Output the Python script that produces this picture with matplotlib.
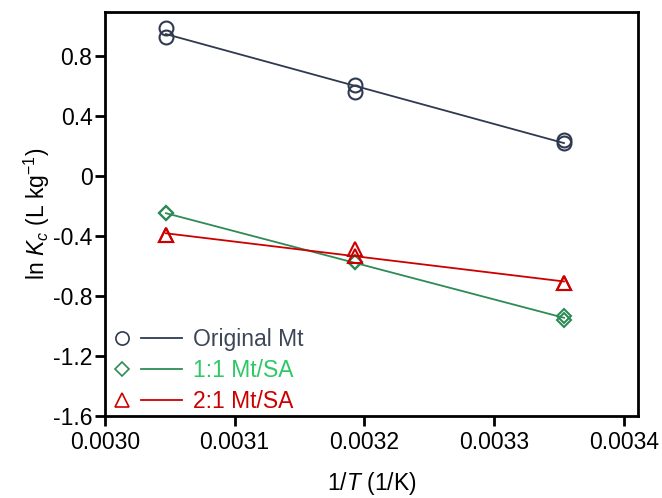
import matplotlib
matplotlib.use("Agg")
import matplotlib.pyplot as plt
import numpy as np
from matplotlib.legend_handler import HandlerBase
from matplotlib.lines import Line2D

plt.rcParams['font.family'] = ['Liberation Sans', 'DejaVu Sans']
plt.rcParams['mathtext.fontset'] = 'custom'
plt.rcParams['mathtext.rm'] = 'Liberation Sans'
plt.rcParams['mathtext.it'] = 'Liberation Sans:italic'

inv_T = [0.003047, 0.003193, 0.003354]
xticks = [0.0030, 0.0031, 0.0032, 0.0033, 0.0034]
xticklabels = ["0.0030", "0.0031", "0.0032", "0.0033", "0.0034"]
yticks = [-1.6, -1.2, -0.8, -0.4, 0, 0.4, 0.8]
yticklabels = ["-1.6", "-1.2", "-0.8", "-0.4", "0", "0.4", "0.8"]

orig_rep1 = [0.987, 0.606, 0.239]
orig_rep2 = [0.927, 0.560, 0.219]
mix11_rep1 = [-0.249, -0.576, -0.930]
mix11_rep2 = [-0.249, -0.576, -0.963]
mix21_rep1 = [-0.396, -0.483, -0.716]
mix21_rep2 = [-0.396, -0.530, -0.716]

series = [
    ("Original Mt", orig_rep1, orig_rep2, 'o', '#2f3a50', '#2f3a50', '#3d4659', 10),
    ("1:1 Mt/SA", mix11_rep1, mix11_rep2, 'D', '#2e8b57', '#2e8b57', '#2ec866', 7.5),
    ("2:1 Mt/SA", mix21_rep1, mix21_rep2, '^', '#cc0000', '#cc0000', '#cc0000', 10),
]

FS = 16.5


class MarkerLineHandler(HandlerBase):
    def create_artists(self, legend, orig_handle, xdescent, ydescent,
                       width, height, fontsize, trans):
        hm, hl = orig_handle
        cy = height / 2.0 - ydescent
        x0 = -xdescent
        m = Line2D([x0 + 0.13 * width], [cy], linestyle='none',
                   marker=hm.get_marker(), markersize=hm.get_markersize(),
                   markerfacecolor='none', markeredgecolor=hm.get_markeredgecolor(),
                   markeredgewidth=hm.get_markeredgewidth(), transform=trans)
        l = Line2D([x0 + 0.41 * width, x0 + width], [cy, cy], color=hl.get_color(),
                   lw=hl.get_linewidth(), transform=trans)
        return [m, l]


fig = plt.figure(figsize=(6.62, 4.98), dpi=100)
ax = fig.add_axes([0.1586, 0.1647, 0.805, 0.811])

handles, labels, tcolors = [], [], []
for name, r1, r2, mk, mc, lc, tc, ms in series:
    xs = np.array(inv_T + inv_T)
    ys = np.array(r1 + r2)
    slope, icpt = np.polyfit(xs, ys, 1)
    xl = np.array([inv_T[0], inv_T[-1]])
    ax.plot(xl, slope * xl + icpt, color=lc, lw=1.3, zorder=2)
    ax.plot(xs, ys, linestyle='none', marker=mk, markersize=ms, markerfacecolor='none',
            markeredgecolor=mc, markeredgewidth=1.5, zorder=3)
    hm = Line2D([], [], linestyle='none', marker=mk, markersize=ms * 0.95,
                markerfacecolor='none', markeredgecolor=mc, markeredgewidth=1.2)
    hl = Line2D([], [], color=lc, lw=1.3)
    handles.append((hm, hl))
    labels.append(name)
    tcolors.append(tc)

ax.set_xlim(0.0030, 0.003411)
ax.set_ylim(-1.6, 1.094)
ax.set_xticks(xticks)
ax.set_xticklabels(xticklabels)
ax.set_yticks(yticks)
ax.set_yticklabels(yticklabels)
ax.tick_params(axis='both', direction='out', length=7, width=2, labelsize=FS)
ax.tick_params(axis='y', pad=2)
ax.tick_params(axis='x', pad=4)
for s in ax.spines.values():
    s.set_linewidth(2)

ax.set_xlabel("1/$\\mathit{T}$ (1/K)", fontsize=FS, labelpad=11)
ax.set_ylabel("ln $\\mathit{K}_c$ (L kg$^{-1}$)", fontsize=FS, labelpad=1)

leg = ax.legend(handles, labels,
                handler_map={tuple: MarkerLineHandler()},
                loc='lower left', bbox_to_anchor=(0.015, 0.007), frameon=False,
                fontsize=FS, handlelength=3.0, handletextpad=0.47,
                labelspacing=0.35, borderaxespad=0.0, borderpad=0.0,
                labelcolor=tcolors)

fig.savefig("out.png", dpi=100)
